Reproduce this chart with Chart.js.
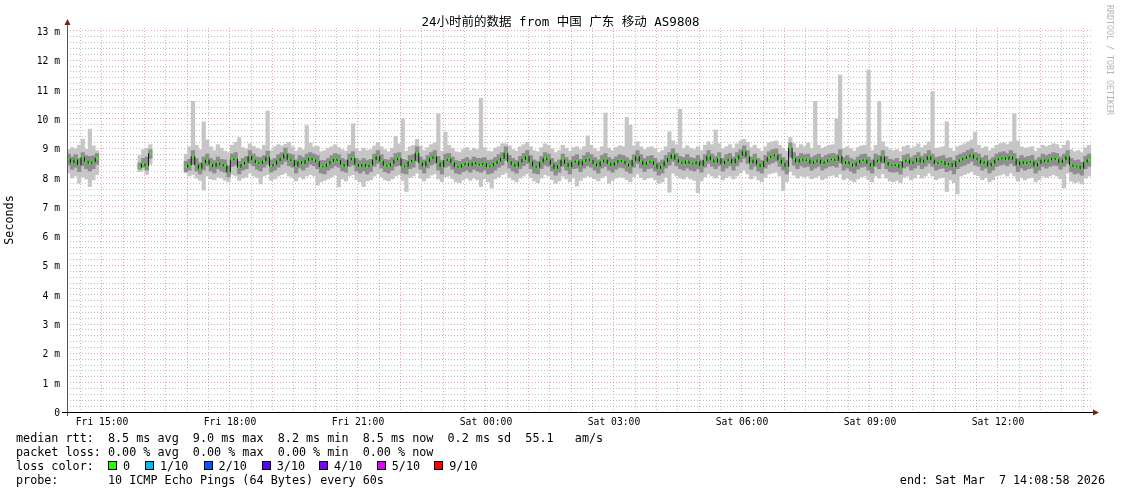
<!DOCTYPE html>
<html>
<head>
<meta charset="utf-8">
<title>SmokePing 24h AS9808</title>
<script src="https://cdn.jsdelivr.net/npm/chart.js@4/dist/chart.umd.min.js"></script>
<style>
  html, body { margin: 0; padding: 0; background: #fff; }
  #wrap { position: relative; width: 1121px; height: 494px; overflow: hidden; }
  #chart { position: absolute; left: 0; top: 0; }
  .txt { position: absolute; font-family: "DejaVu Sans Mono", monospace; color: #000; white-space: pre; }
  #title { left: 0; width: 1121px; top: 14px; text-align: center; font-size: 12.5px; line-height: 16px;
           font-family: "DejaVu Sans Mono", "Noto Sans CJK SC", monospace; }
  #brand { left: 1105px; top: 5px; writing-mode: vertical-rl; font-size: 8.3px; line-height: 10px; color: #b4b4b4; }
  .row { left: 16px; font-size: 11.75px; line-height: 14px; }
  .box { position: absolute; width: 7px; height: 7px; border: 1px solid #000; }
</style>
</head>
<body>
<div id="wrap">
  <canvas id="chart" width="1121" height="494"></canvas>
  <div id="title" class="txt">24小时前的数据 from 中国 广东 移动 AS9808</div>
  <div id="brand" class="txt">RRDTOOL / TOBI OETIKER</div>
  <div id="rowRtt" class="txt row" style="top:431px"></div>
  <div id="rowLoss" class="txt row" style="top:445px"></div>
  <div id="rowColor" class="txt row" style="top:459px">loss color:</div>
  <div id="rowProbe" class="txt row" style="top:473px"></div>
  <div id="rowEnd" class="txt row" style="top:473px; left:auto; right:16px"></div>
</div>
<script>
// 5-minute samples, first one at Fri 14:13, hours counted from Fri 00:00
const sampleStartHour = 14 + 13 / 60;
const sampleStepHours = 5 / 60;

// median round trip time (ms)
const rttMedian = [
  8.63,8.50,8.60,8.43,8.68,8.56,8.49,8.53,8.66,
  null,null,null,null,null,null,null,null,null,null,null,
  8.35,8.46,8.40,8.82,
  null,null,null,null,null,null,null,null,null,
  8.36,8.43,8.71,8.43,8.31,8.49,8.60,8.45,8.37,8.49,8.44,8.40,
  8.18,8.60,8.63,8.35,8.45,8.52,8.71,8.60,8.50,8.48,8.56,8.69,
  8.39,8.45,8.57,8.66,8.79,8.62,8.58,8.39,8.54,8.48,8.58,8.65,
  8.60,8.54,8.37,8.37,8.46,8.55,8.62,8.58,8.45,8.39,8.60,8.65,
  8.45,8.38,8.45,8.37,8.43,8.60,8.71,8.56,8.42,8.39,8.48,8.60,
  8.65,8.39,8.37,8.54,8.58,8.83,8.50,8.39,8.54,8.65,8.71,8.50,
  8.37,8.58,8.62,8.50,8.37,8.35,8.43,8.48,8.40,8.50,8.46,8.43,
  8.48,8.37,8.39,8.48,8.56,8.65,8.83,8.54,8.45,8.38,8.52,8.62,
  8.71,8.54,8.39,8.35,8.52,8.65,8.60,8.45,8.31,8.40,8.60,8.48,
  8.37,8.52,8.56,8.42,8.55,8.62,8.58,8.47,8.39,8.54,8.60,8.48,
  8.41,8.50,8.58,8.55,8.46,8.39,8.58,8.71,8.56,8.44,8.52,8.54,
  8.45,8.31,8.39,8.54,8.65,8.77,8.62,8.52,8.48,8.56,8.48,8.46,
  8.54,8.40,8.58,8.71,8.60,8.52,8.64,8.46,8.56,8.62,8.49,8.63,
  8.75,8.88,8.71,8.50,8.60,8.45,8.37,8.55,8.68,8.73,8.77,8.60,
  8.48,8.37,9.00,8.65,8.52,8.62,8.58,8.60,8.48,8.54,8.60,8.48,
  8.54,8.60,8.62,8.58,8.73,8.48,8.54,8.46,8.39,8.50,8.58,8.60,
  8.48,8.39,8.60,8.54,8.71,8.52,8.42,8.40,8.43,8.35,8.54,8.60,
  8.48,8.54,8.65,8.52,8.60,8.71,8.60,8.48,8.52,8.54,8.43,8.48,
  8.37,8.54,8.60,8.65,8.71,8.77,8.65,8.60,8.48,8.54,8.39,8.48,
  8.60,8.64,8.67,8.62,8.71,8.62,8.43,8.54,8.48,8.52,8.54,8.39,
  8.48,8.60,8.54,8.60,8.65,8.62,8.50,8.60,8.71,8.43,8.37,8.39,
  8.31,8.52,8.60
];

// fastest ping of each sample (ms)
const rttMin = [
  8.15,7.98,8.05,7.81,8.02,7.95,7.69,7.92,8.10,
  null,null,null,null,null,null,null,null,null,null,null,
  8.20,8.25,8.10,8.45,
  null,null,null,null,null,null,null,null,null,
  8.15,8.05,8.10,7.98,7.90,7.57,8.05,7.95,7.92,8.02,7.98,7.90,
  7.85,8.10,8.05,7.90,7.98,8.02,8.15,8.05,8.00,7.78,8.05,8.10,
  7.90,7.95,8.05,8.10,8.15,8.05,8.00,7.88,8.02,7.95,8.05,8.10,
  8.05,7.74,7.85,7.90,7.95,8.02,8.08,7.68,7.95,7.88,8.05,8.10,
  7.92,7.85,7.69,7.88,7.92,8.05,8.12,8.02,7.92,7.88,7.95,8.05,
  8.10,7.90,7.52,8.00,8.05,8.15,7.98,7.88,7.98,8.08,8.12,7.95,
  7.85,8.02,8.05,7.95,7.85,7.82,7.92,7.98,7.90,7.98,7.92,7.69,
  7.95,7.85,7.64,7.95,8.02,8.10,8.15,8.00,7.92,7.85,7.98,8.05,
  8.12,8.00,7.88,7.82,7.98,8.10,8.05,7.92,7.80,7.88,8.05,7.95,
  7.85,7.98,7.71,7.90,8.00,8.05,8.02,7.95,7.88,8.00,8.05,7.80,
  7.90,7.98,8.02,8.00,7.92,7.85,8.02,8.12,8.00,7.92,7.98,8.00,
  7.92,7.80,7.85,8.00,7.50,8.15,8.05,7.98,7.95,8.02,7.95,7.90,
  7.48,7.88,8.02,8.12,8.05,7.98,8.08,7.92,8.00,8.05,7.95,8.05,
  8.15,8.25,8.12,7.95,8.05,7.92,7.85,8.00,8.12,8.15,8.18,8.05,
  7.55,7.85,8.20,8.08,7.98,8.05,8.02,8.05,7.95,8.00,8.05,7.92,
  7.98,8.05,8.08,8.02,8.12,7.92,7.98,7.90,7.85,7.95,8.02,8.05,
  7.92,7.85,8.05,7.98,8.12,7.98,7.88,7.85,7.90,7.82,8.00,8.05,
  7.92,7.98,8.10,7.98,8.05,8.15,8.05,7.92,7.98,8.00,7.52,7.92,
  7.82,7.44,8.05,8.10,8.15,8.20,8.10,8.05,7.92,8.00,7.85,7.92,
  8.05,8.08,8.12,8.05,8.15,8.05,7.88,8.00,7.92,7.98,8.00,7.85,
  7.92,8.05,8.00,8.05,8.10,8.05,7.95,7.64,8.15,7.88,7.82,7.85,
  7.78,7.98,8.05
];

// slowest ping of each sample (ms)
const rttMax = [
  8.95,9.02,8.98,9.10,9.31,8.96,9.65,9.08,8.92,
  null,null,null,null,null,null,null,null,null,null,null,
  8.75,8.95,9.00,9.12,
  null,null,null,null,null,null,null,null,null,
  8.80,9.05,10.60,9.10,8.95,9.90,9.28,9.05,8.92,9.12,9.00,8.90,
  8.85,9.10,9.20,9.36,9.02,8.98,9.15,9.07,9.00,8.95,9.10,10.27,
  8.92,9.05,9.12,9.08,9.14,9.20,9.05,8.90,9.02,8.95,9.77,9.17,
  9.05,9.07,8.88,8.92,9.00,9.05,9.12,9.02,8.95,8.90,9.10,9.83,
  8.98,8.90,9.00,8.92,8.95,9.08,9.20,9.05,8.95,8.88,9.00,9.40,
  9.15,10.00,8.90,9.05,9.10,9.30,9.07,8.92,9.02,9.12,9.18,10.17,
  8.90,9.55,9.10,9.00,8.88,8.85,8.95,9.02,8.92,9.00,8.95,10.70,
  9.02,8.90,8.88,9.00,9.05,9.15,9.15,9.08,8.95,8.90,9.05,9.12,
  9.20,9.05,8.92,8.88,9.02,9.15,9.10,8.98,8.85,8.92,9.10,9.00,
  8.90,9.02,9.05,8.95,9.05,9.42,9.10,8.98,8.90,9.05,10.20,9.00,
  8.92,9.02,9.08,9.05,10.05,9.79,9.08,9.22,9.05,8.95,9.02,9.05,
  8.98,8.85,8.92,9.05,9.56,9.25,9.12,10.33,9.00,9.08,9.00,8.95,
  9.05,8.92,9.10,9.22,9.12,9.62,9.15,8.98,9.05,9.12,9.00,9.15,
  9.25,9.30,9.20,9.02,9.10,8.98,8.90,9.05,9.18,9.22,9.25,9.10,
  9.00,8.90,9.36,9.15,9.02,9.12,9.05,9.18,9.00,10.60,9.10,9.00,
  9.05,9.10,9.12,10.00,11.50,9.00,9.05,8.98,8.90,9.02,9.08,9.10,
  11.67,8.92,9.10,10.60,9.22,9.05,8.95,8.92,8.95,8.88,9.05,9.10,
  9.00,9.05,9.15,9.02,9.10,9.22,10.93,9.00,9.02,9.05,9.90,9.00,
  8.90,9.05,9.10,9.15,9.22,9.28,9.55,9.10,9.00,9.05,8.92,9.00,
  9.10,9.15,9.18,9.12,9.22,10.17,9.25,9.05,9.00,9.02,9.05,8.90,
  9.00,9.10,9.05,9.10,9.15,9.12,9.00,9.10,9.25,8.95,8.88,8.92,
  8.85,9.02,9.10
];

// core of the smoke: middle pings low / high (ms)
const rttCoreLow = [
  8.42,8.28,8.35,8.20,8.40,8.30,8.22,8.30,8.45,
  null,null,null,null,null,null,null,null,null,null,null,
  8.28,8.35,8.25,8.65,
  null,null,null,null,null,null,null,null,null,
  8.20,8.25,8.45,8.22,8.12,8.25,8.40,8.22,8.15,8.30,8.22,8.18,
  8.02,8.38,8.42,8.12,8.25,8.30,8.48,8.40,8.28,8.22,8.35,8.45,
  8.18,8.25,8.35,8.45,8.55,8.40,8.35,8.15,8.32,8.25,8.35,8.45,
  8.40,8.30,8.15,8.12,8.25,8.32,8.40,8.35,8.22,8.18,8.38,8.42,
  8.22,8.15,8.22,8.12,8.20,8.38,8.48,8.32,8.20,8.15,8.25,8.38,
  8.42,8.15,8.12,8.30,8.35,8.55,8.28,8.15,8.32,8.42,8.48,8.25,
  8.12,8.35,8.40,8.28,8.15,8.12,8.20,8.25,8.18,8.28,8.22,8.18,
  8.25,8.12,8.15,8.25,8.35,8.42,8.58,8.32,8.22,8.15,8.30,8.40,
  8.48,8.30,8.15,8.12,8.30,8.42,8.38,8.22,8.08,8.18,8.38,8.25,
  8.12,8.30,8.32,8.20,8.32,8.40,8.35,8.25,8.15,8.32,8.38,8.25,
  8.18,8.28,8.35,8.32,8.22,8.15,8.35,8.48,8.32,8.20,8.30,8.32,
  8.22,8.08,8.15,8.32,8.42,8.55,8.40,8.30,8.25,8.32,8.25,8.22,
  8.30,8.18,8.35,8.48,8.38,8.30,8.40,8.22,8.32,8.40,8.25,8.40,
  8.52,8.65,8.48,8.28,8.38,8.22,8.15,8.32,8.45,8.50,8.55,8.38,
  8.25,8.12,8.70,8.42,8.30,8.40,8.35,8.38,8.25,8.32,8.38,8.25,
  8.32,8.38,8.40,8.35,8.50,8.25,8.32,8.22,8.15,8.28,8.35,8.38,
  8.25,8.15,8.38,8.30,8.48,8.30,8.20,8.18,8.20,8.12,8.32,8.38,
  8.25,8.32,8.42,8.30,8.38,8.48,8.38,8.25,8.30,8.32,8.20,8.25,
  8.12,8.30,8.38,8.42,8.48,8.55,8.42,8.38,8.25,8.32,8.15,8.25,
  8.38,8.42,8.45,8.40,8.48,8.40,8.20,8.32,8.25,8.30,8.32,8.15,
  8.25,8.38,8.32,8.38,8.42,8.40,8.28,8.38,8.48,8.20,8.12,8.15,
  8.08,8.30,8.38
];

const rttCoreHigh = [
  8.80,8.70,8.78,8.65,8.85,8.75,8.72,8.74,8.82,
  null,null,null,null,null,null,null,null,null,null,null,
  8.50,8.65,8.70,8.95,
  null,null,null,null,null,null,null,null,null,
  8.55,8.62,8.92,8.65,8.50,8.70,8.80,8.65,8.58,8.70,8.62,8.60,
  8.40,8.80,8.85,8.55,8.65,8.72,8.92,8.80,8.70,8.68,8.75,8.90,
  8.60,8.65,8.78,8.85,9.00,8.82,8.78,8.60,8.75,8.68,8.80,8.85,
  8.80,8.75,8.58,8.58,8.65,8.75,8.82,8.78,8.65,8.60,8.80,8.88,
  8.65,8.58,8.65,8.58,8.62,8.80,8.92,8.78,8.62,8.60,8.68,8.82,
  8.85,8.62,8.58,8.75,8.78,9.05,8.70,8.60,8.75,8.85,8.92,8.72,
  8.58,8.80,8.82,8.70,8.58,8.55,8.62,8.68,8.60,8.70,8.65,8.65,
  8.68,8.58,8.60,8.68,8.78,8.85,9.05,8.75,8.65,8.58,8.72,8.82,
  8.92,8.75,8.60,8.55,8.72,8.85,8.80,8.65,8.52,8.60,8.80,8.68,
  8.58,8.72,8.78,8.62,8.75,8.85,8.78,8.68,8.60,8.75,8.82,8.68,
  8.62,8.70,8.78,8.75,8.68,8.60,8.78,8.92,8.78,8.65,8.72,8.75,
  8.65,8.52,8.60,8.75,8.85,8.98,8.82,8.72,8.68,8.78,8.68,8.65,
  8.75,8.60,8.78,8.92,8.80,8.72,8.85,8.65,8.78,8.82,8.70,8.85,
  8.95,9.08,8.92,8.70,8.80,8.65,8.58,8.75,8.88,8.95,8.98,8.80,
  8.68,8.58,9.18,8.85,8.72,8.82,8.78,8.80,8.68,8.75,8.80,8.68,
  8.75,8.80,8.82,8.78,8.95,8.68,8.75,8.65,8.60,8.70,8.78,8.80,
  8.70,8.60,8.80,8.75,8.92,8.72,8.62,8.60,8.65,8.55,8.75,8.80,
  8.68,8.75,8.85,8.72,8.80,8.92,8.80,8.68,8.72,8.75,8.65,8.68,
  8.58,8.75,8.80,8.85,8.92,8.98,8.85,8.80,8.68,8.75,8.60,8.68,
  8.80,8.85,8.88,8.82,8.92,8.82,8.65,8.75,8.68,8.72,8.75,8.60,
  8.68,8.80,8.75,8.80,8.85,8.82,8.70,8.80,8.92,8.65,8.58,8.60,
  8.52,8.72,8.80
];

// axis labels
const xTickHours = [15, 18, 21, 24, 27, 30, 33, 36];
const xTickLabels = ['Fri 15:00', 'Fri 18:00', 'Fri 21:00', 'Sat 00:00',
                     'Sat 03:00', 'Sat 06:00', 'Sat 09:00', 'Sat 12:00'];
const yTickLabels = ['0', '1 m', '2 m', '3 m', '4 m', '5 m', '6 m',
                     '7 m', '8 m', '9 m', '10 m', '11 m', '12 m', '13 m'];

// legend texts
const rttLine = 'median rtt:  8.5 ms avg  9.0 ms max  8.2 ms min  8.5 ms now  0.2 ms sd  55.1   am/s';
const lossLine = 'packet loss: 0.00 % avg  0.00 % max  0.00 % min  0.00 % now';
const probeLine = 'probe:       10 ICMP Echo Pings (64 Bytes) every 60s';
const endLine = 'end: Sat Mar  7 14:08:58 2026';
const lossLabels = ['0', '1/10', '2/10', '3/10', '4/10', '5/10', '9/10'];
const lossColors = ['#26ff00', '#00b8ff', '#0059ff', '#5e00ff', '#7e00ff', '#dd00ff', '#ff0000'];
const lossLabelX = [123, 160, 218.6, 276.8, 334, 391.8, 449.3];

document.getElementById('rowRtt').textContent = rttLine;
document.getElementById('rowLoss').textContent = lossLine;
document.getElementById('rowProbe').textContent = probeLine;
document.getElementById('rowEnd').textContent = endLine;

// loss colour boxes
const wrap = document.getElementById('wrap');
lossLabels.forEach((label, i) => {
  const box = document.createElement('div');
  box.className = 'box';
  box.style.left = (lossLabelX[i] - 15) + 'px';
  box.style.top = '461px';
  box.style.background = lossColors[i];
  wrap.appendChild(box);
  const txt = document.createElement('div');
  txt.className = 'txt row';
  txt.style.left = lossLabelX[i] + 'px';
  txt.style.top = '459px';
  txt.textContent = label;
  wrap.appendChild(txt);
});

const times = rttMedian.map((_, i) => sampleStartHour + i * sampleStepHours);

// floating bars from low to high, gaps left out
function band(lo, hi) {
  const pts = [];
  times.forEach((t, i) => {
    if (lo[i] != null && hi[i] != null) pts.push({ x: t, y: [lo[i], hi[i]] });
  });
  return pts;
}

const MONO = '"DejaVu Sans Mono", monospace';
const majorRed = 'rgba(240, 90, 90, 0.55)';
const minorGray = 'rgba(150, 150, 150, 0.6)';
const isWhole = v => Math.abs(v - Math.round(v)) < 1e-6;

// axis lines with the rrdtool arrow heads
const axisArrows = {
  id: 'axisArrows',
  afterDatasetsDraw(chart) {
    const { ctx, chartArea: a } = chart;
    ctx.save();
    ctx.lineWidth = 1;
    ctx.strokeStyle = '#555';
    ctx.beginPath();
    ctx.moveTo(a.left + 0.5, a.bottom + 4);
    ctx.lineTo(a.left + 0.5, a.top - 4);
    ctx.stroke();
    ctx.strokeStyle = '#000';
    ctx.beginPath();
    ctx.moveTo(a.left - 5, a.bottom + 0.5);
    ctx.lineTo(a.right + 2, a.bottom + 0.5);
    ctx.stroke();
    ctx.fillStyle = '#7f1d1d';
    ctx.beginPath();
    ctx.moveTo(a.left + 0.5, a.top - 9);
    ctx.lineTo(a.left - 2.5, a.top - 3);
    ctx.lineTo(a.left + 3.5, a.top - 3);
    ctx.closePath();
    ctx.fill();
    ctx.beginPath();
    ctx.moveTo(a.right + 6, a.bottom + 0.5);
    ctx.lineTo(a.right, a.bottom - 2.5);
    ctx.lineTo(a.right, a.bottom + 3.5);
    ctx.closePath();
    ctx.fill();
    ctx.restore();
  }
};

const chart = new Chart(document.getElementById('chart').getContext('2d'), {
  type: 'bar',
  data: {
    datasets: [
      {
        type: 'line',
        label: 'median',
        data: times.map((t, i) => ({ x: t, y: rttMedian[i] })),
        borderColor: '#111',
        borderWidth: 1,
        stepped: 'middle',
        spanGaps: false,
        pointStyle: 'rect',
        pointRadius: 1.6,
        pointBorderWidth: 0,
        pointBackgroundColor: lossColors[0],
        order: 1
      },
      {
        label: 'core',
        data: band(rttCoreLow, rttCoreHigh),
        backgroundColor: '#8e8e8e',
        borderWidth: 0,
        grouped: false,
        barPercentage: 1,
        categoryPercentage: 1,
        order: 2
      },
      {
        label: 'smoke',
        data: band(rttMin, rttMax),
        backgroundColor: '#c6c6c6',
        borderWidth: 0,
        grouped: false,
        barPercentage: 1,
        categoryPercentage: 1,
        order: 3
      }
    ]
  },
  options: {
    responsive: false,
    animation: false,
    events: [],
    layout: { padding: { top: 28, right: 28, bottom: 0, left: 0 } },
    scales: {
      x: {
        type: 'linear',
        min: 14.18,
        max: 38.227,
        offset: false,
        border: { display: false, dash: [1, 2] },
        grid: {
          offset: false,
          drawTicks: false,
          color: c => isWhole(c.tick.value) ? majorRed : minorGray
        },
        afterBuildTicks: scale => {
          const ticks = [];
          for (let h = 29; h <= 76; h++) ticks.push({ value: h / 2 });
          scale.ticks = ticks;
        },
        afterFit: scale => { scale.height = 82; },
        ticks: {
          autoSkip: false,
          maxRotation: 0,
          minRotation: 0,
          padding: 5,
          color: '#000',
          font: { family: MONO, size: 9.7 },
          callback: value => {
            const k = xTickHours.indexOf(value);
            return k >= 0 ? xTickLabels[k] : '';
          }
        }
      },
      y: {
        min: 0,
        max: 13.1,
        border: { display: false, dash: [1, 2] },
        grid: {
          drawTicks: false,
          color: c => isWhole(c.tick.value) ? majorRed : minorGray
        },
        afterBuildTicks: scale => {
          const ticks = [];
          for (let k = 0; k <= 65; k++) ticks.push({ value: Math.round(k * 2) / 10 });
          scale.ticks = ticks;
        },
        afterFit: scale => { scale.width = 67; },
        title: {
          display: true,
          text: 'Seconds',
          color: '#000',
          padding: { top: 3, bottom: 0 },
          font: { family: MONO, size: 11.75 }
        },
        ticks: {
          autoSkip: false,
          padding: 7,
          labelOffset: 1.5,
          color: '#000',
          font: { family: MONO, size: 9.7 },
          callback: value => isWhole(value) ? yTickLabels[Math.round(value)] : ''
        }
      }
    },
    plugins: {
      legend: { display: false },
      tooltip: { enabled: false }
    }
  },
  plugins: [axisArrows]
});
</script>
</body>
</html>
